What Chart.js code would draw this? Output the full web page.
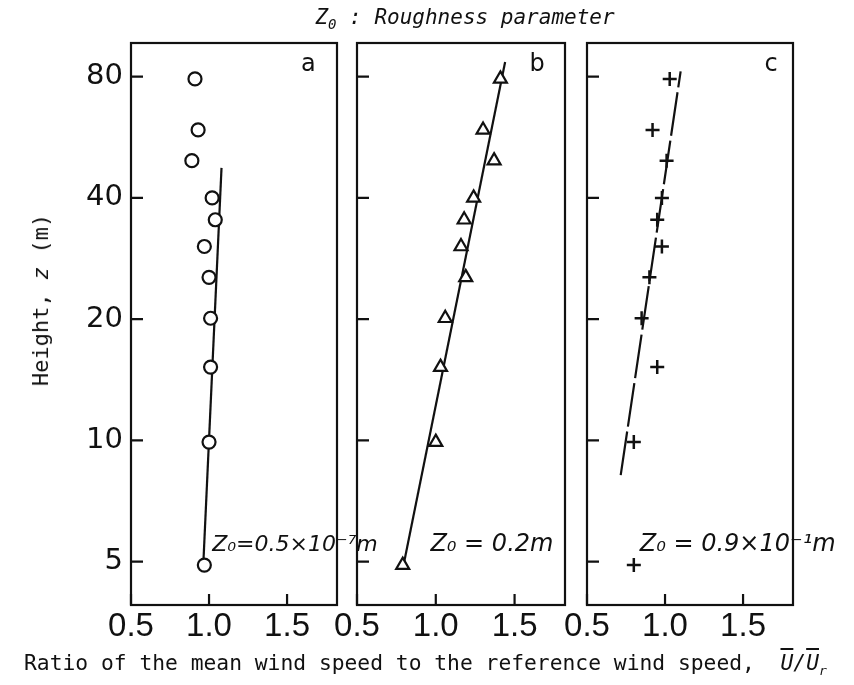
<!DOCTYPE html>
<html>
<head>
<meta charset="utf-8">
<script src="https://cdn.jsdelivr.net/npm/chart.js@4.4.0/dist/chart.umd.min.js"></script>
<style>
  body { margin: 0; background: #fff; }
  #wrap { position: relative; width: 854px; height: 685px; overflow: hidden; background: #fff; }
  canvas { position: absolute; left: 0; top: 0; }
  .txt { position: absolute; font-family: "DejaVu Sans Mono", monospace; color: #111; white-space: nowrap; line-height: 1; }
  .ov { text-decoration: overline; }
</style>
</head>
<body>
<div id="wrap">
  <canvas id="panelA" width="854" height="685"></canvas>
  <canvas id="panelB" width="854" height="685"></canvas>
  <canvas id="panelC" width="854" height="685"></canvas>
  <div class="txt" id="mainTitle" style="left:465px; top:7px; font-size:21px; transform:translateX(-50%); font-style:italic;">Z<sub style="font-size:14px">0</sub> : Roughness parameter</div>
  <div class="txt" id="yTitle" style="left:41px; top:300px; font-size:22px; transform:translate(-50%,-50%) rotate(-90deg);">Height, <i>z</i> (m)</div>
  <div class="txt" id="xTitle" style="left:24px; top:652px; font-size:21.3px;">Ratio of the mean wind speed to the reference wind speed, &nbsp;<i><span class="ov">U</span>/<span class="ov">U</span><sub style="font-size:13px">r</sub></i></div>
</div>
<script>
// measurement heights (m), shared by the three panels
const heights = [79, 59, 49.5, 40, 35.3, 30.3, 25.4, 20.1, 15.2, 9.9, 4.9];
// ratio U/Ur
const ratioA = [0.91, 0.93, 0.89, 1.02, 1.04, 0.97, 1.00, 1.01, 1.01, 1.00, 0.97];
const ratioB = [1.41, 1.30, 1.37, 1.24, 1.18, 1.16, 1.19, 1.06, 1.03, 1.00, 0.79];
const ratioC = [1.03, 0.92, 1.01, 0.98, 0.95, 0.98, 0.90, 0.85, 0.95, 0.80, 0.80];
// fitted log-law lines, [ratio, height] end points
const fitA = [[0.963, 4.9], [1.08, 47.5]];
const fitB = [[0.80, 5.0], [1.44, 87]];
const fitC = [[0.716, 8.2], [1.10, 82.5]];

const yTicks = [5, 10, 20, 40, 80];
const xTicks = [0.5, 1.0, 1.5];

const notes = {
    a: { letter: "a", letterAt: [1.637, 85.5], text: "Z\u2080=0.5\u00d710\u207b\u2077m", at: [1.02, 5.3], size: 22 },
    b: { letter: "b", letterAt: [1.643, 85.5], text: "Z\u2080 = 0.2m", at: [0.966, 5.3], size: 24 },
    c: { letter: "c", letterAt: [1.68, 85.5], text: "Z\u2080 = 0.9\u00d710\u207b\u00b9m", at: [0.838, 5.3], size: 24 },
};

const framePlugin = {
    id: "frame",
    afterDatasetsDraw(chart, args, opts) {
        const ctx = chart.ctx;
        const a = chart.chartArea;
        const xs = chart.scales.x, ys = chart.scales.y;
        ctx.save();
        ctx.strokeStyle = "#111";
        ctx.lineWidth = 2.2;
        ctx.strokeRect(a.left, a.top, a.width, a.height);
        // ticks point inward
        ctx.beginPath();
        yTicks.forEach(v => {
            const p = ys.getPixelForValue(v);
            ctx.moveTo(a.left, p);
            ctx.lineTo(a.left + 12, p);
        });
        xTicks.forEach(v => {
            const p = xs.getPixelForValue(v);
            ctx.moveTo(p, a.bottom);
            ctx.lineTo(p, a.bottom - 11);
        });
        ctx.stroke();

        const n = opts.note;
        ctx.fillStyle = "#111";
        ctx.font = '24px "DejaVu Sans"';
        ctx.textAlign = "center";
        ctx.textBaseline = "middle";
        ctx.fillText(n.letter, xs.getPixelForValue(n.letterAt[0]), ys.getPixelForValue(n.letterAt[1]));
        ctx.font = 'italic ' + n.size + 'px "DejaVu Sans"';
        ctx.textAlign = "left";
        ctx.textBaseline = "alphabetic";
        ctx.fillText(n.text, xs.getPixelForValue(n.at[0]), ys.getPixelForValue(n.at[1]));
        ctx.restore();
    }
};

function makeChart(id, ratios, fit, style, note, pad, showY, dash) {
    const ctx = document.getElementById(id).getContext("2d");
    return new Chart(ctx, {
        type: "scatter",
        data: {
            datasets: [{
                data: ratios.map((r, i) => ({ x: r, y: heights[i] })),
                pointStyle: style,
                pointRadius: style === "triangle" ? 7.5 : style === "cross" ? 7 : 6.5,
                pointBorderWidth: style === "cross" ? 2.5 : 2.2,
                pointBackgroundColor: "#fff",
                pointBorderColor: "#111",
                order: 0
            }, {
                data: fit.map(p => ({ x: p[0], y: p[1] })),
                showLine: true,
                borderColor: "#111",
                borderWidth: 2.2,
                borderDash: dash,
                pointRadius: 0,
                order: 1
            }]
        },
        options: {
            responsive: false,
            animation: false,
            events: [],
            layout: { padding: pad },
            plugins: {
                legend: { display: false },
                tooltip: { enabled: false },
                frame: { note: note }
            },
            scales: {
                x: {
                    type: "linear",
                    min: 0.5,
                    max: 1.82,
                    grid: { display: false, drawTicks: false },
                    border: { display: false },
                    afterBuildTicks: s => { s.ticks = xTicks.map(v => ({ value: v })); },
                    afterFit: s => { s.height = 50; },
                    ticks: {
                        padding: 2,
                        color: "#111",
                        autoSkip: false,
                        maxRotation: 0,
                        font: { family: '"Liberation Sans Narrow", "Liberation Sans", sans-serif', size: 33 },
                        callback: v => v.toFixed(1)
                    }
                },
                y: {
                    type: "logarithmic",
                    min: 3.9,
                    max: 97,
                    grid: { display: false, drawTicks: false },
                    border: { display: false },
                    afterBuildTicks: s => { s.ticks = yTicks.map(v => ({ value: v })); },
                    afterFit: s => { s.width = showY ? 131 : 0; },
                    ticks: {
                        display: showY,
                        padding: 8,
                        color: "#111",
                        autoSkip: false,
                        font: { family: '"DejaVu Sans", sans-serif', size: 29 },
                        callback: v => String(v)
                    }
                }
            }
        },
        plugins: [framePlugin]
    });
}

makeChart("panelA", ratioA, fitA, "circle", notes.a, { left: 0, right: 517, top: 43, bottom: 30 }, true, []);
makeChart("panelB", ratioB, fitB, "triangle", notes.b, { left: 357, right: 289, top: 43, bottom: 30 }, false, []);
makeChart("panelC", ratioC, fitC, "cross", notes.c, { left: 587, right: 61, top: 43, bottom: 30 }, false, [44, 5]);
</script>
</body>
</html>
